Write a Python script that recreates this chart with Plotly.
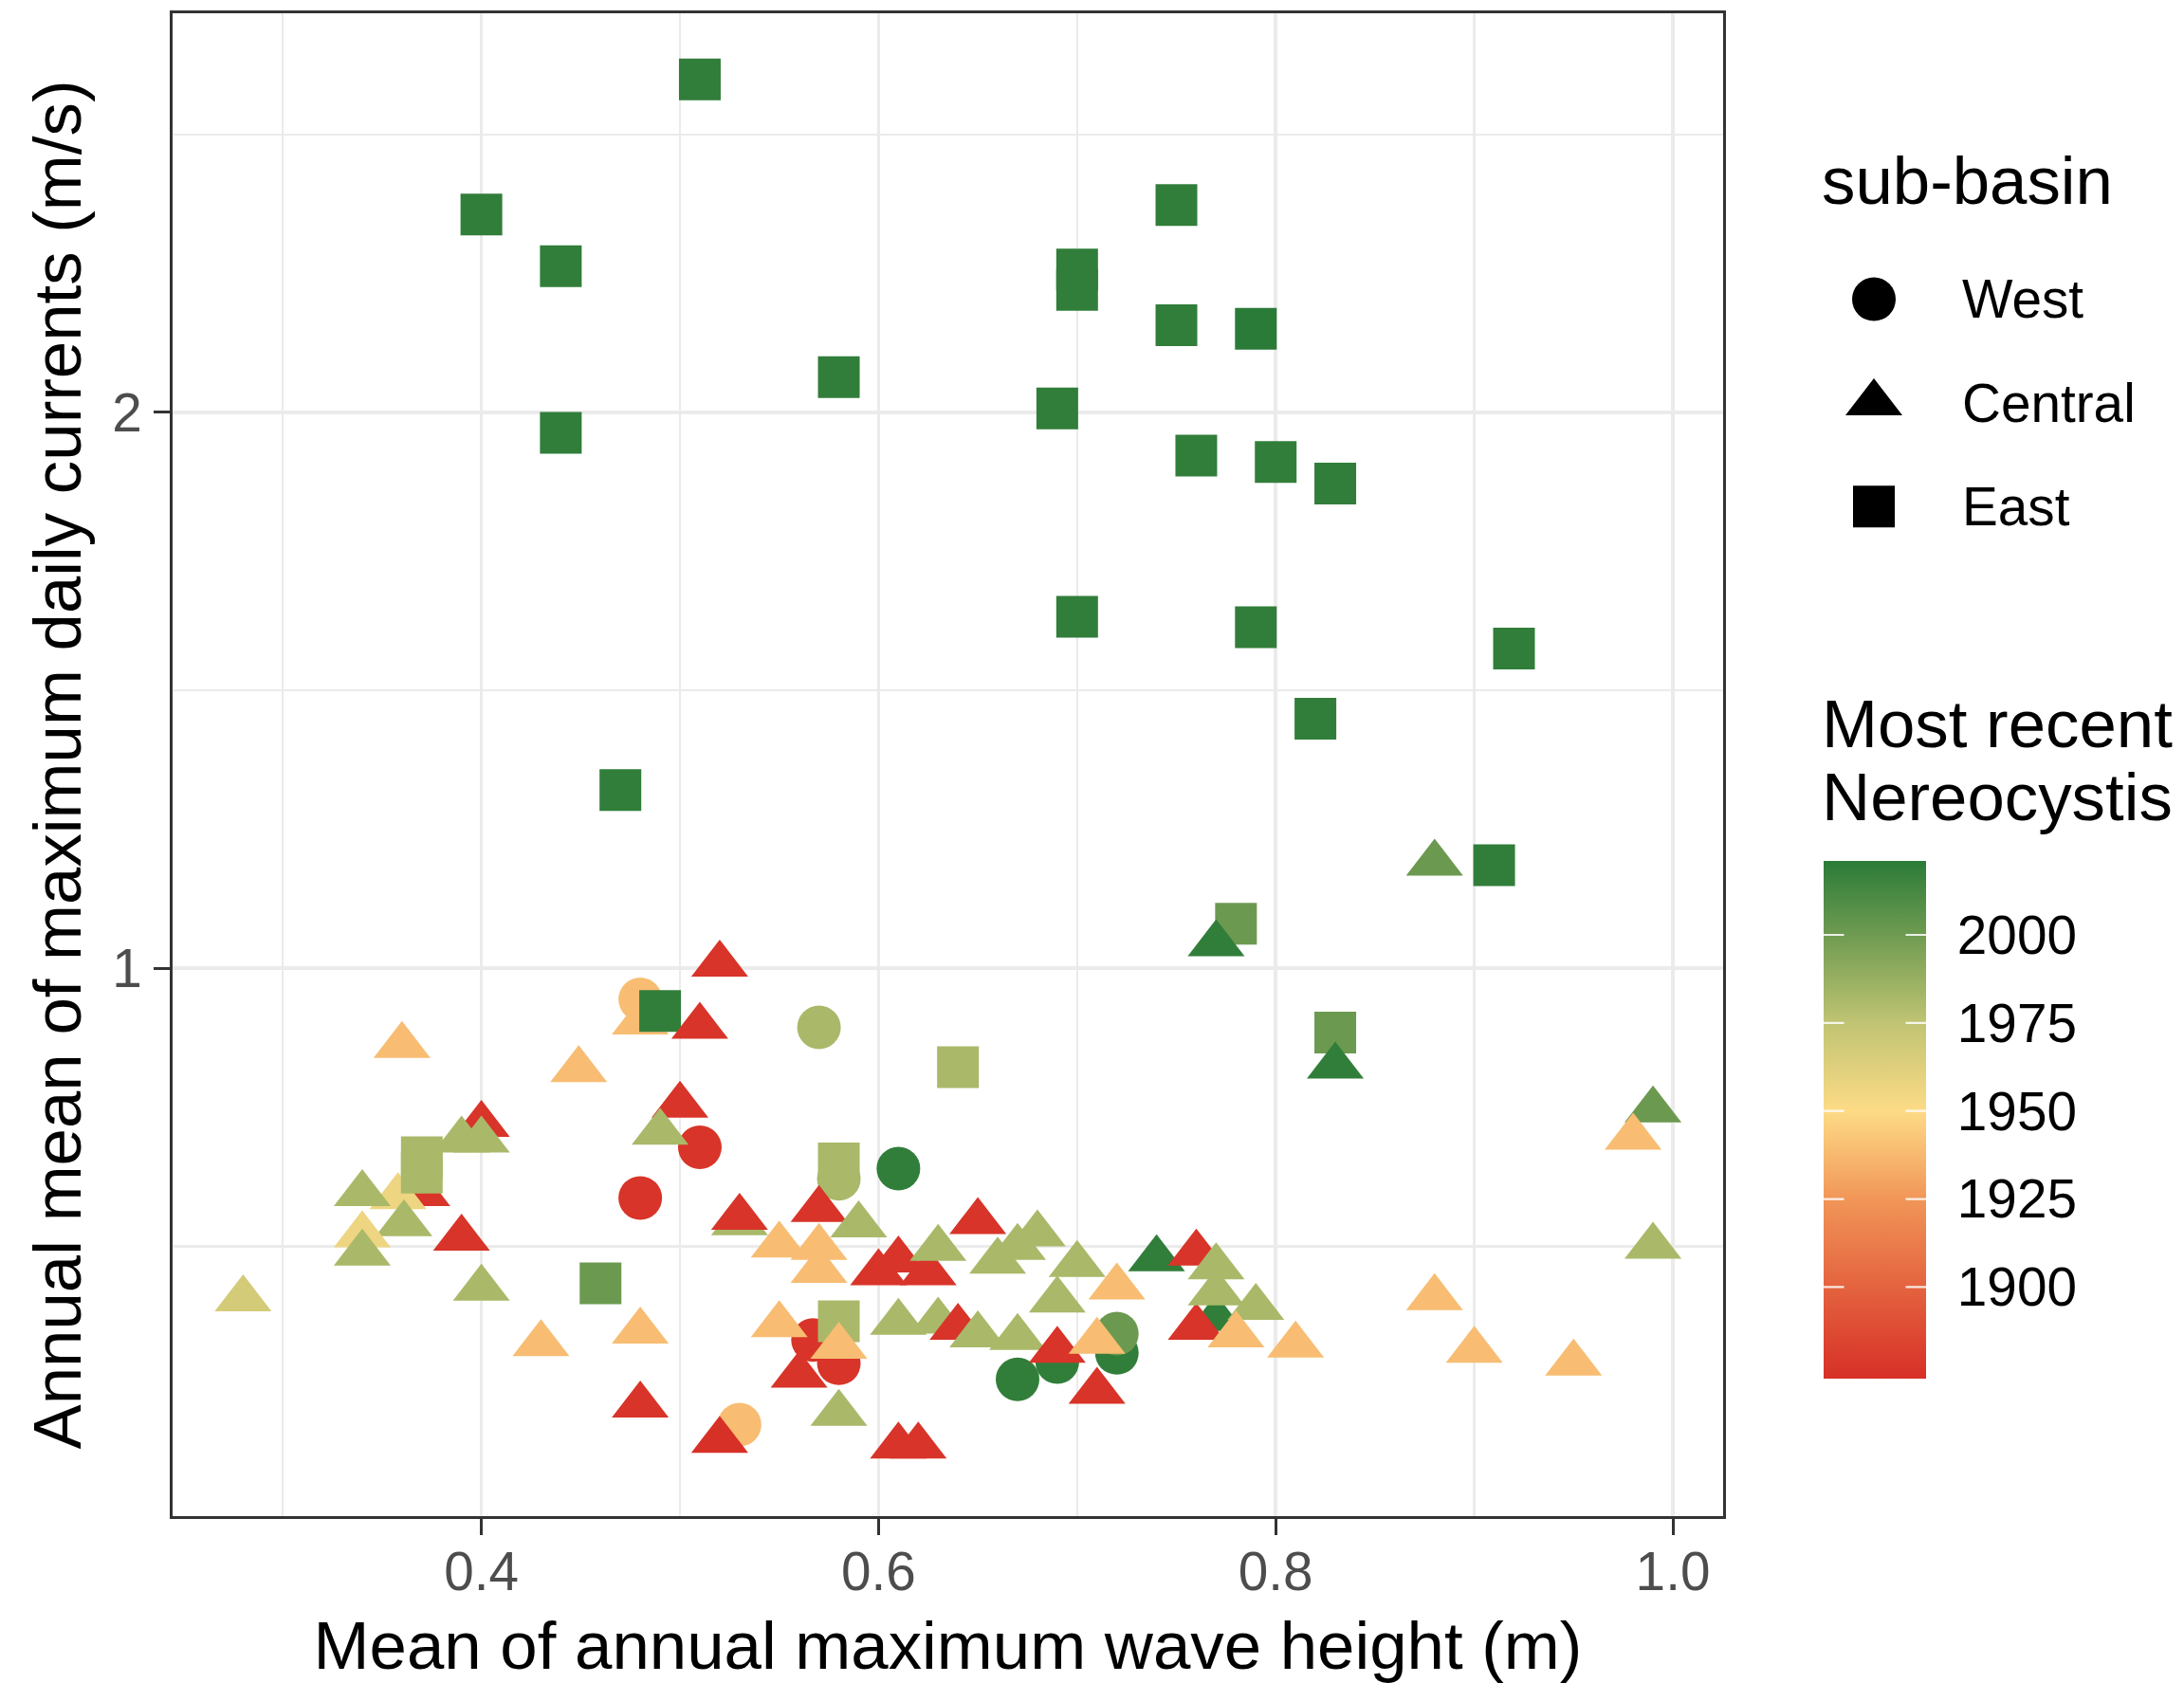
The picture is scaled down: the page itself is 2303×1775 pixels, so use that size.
import plotly.graph_objects as go

# ---------------- data ----------------
basin = (["Central"] * 4 + ["West"] * 13 + ["East"] * 29 + ["Central"] * 69)

wave = [
    # early-drawn Central
    0.37, 0.358, 0.48, 0.77,
    # West
    0.48, 0.57, 0.51, 0.48, 0.61, 0.58, 0.567, 0.58, 0.53, 0.67, 0.69, 0.72, 0.72,
    # East
    0.51, 0.40, 0.44, 0.75, 0.70, 0.70, 0.75, 0.79, 0.58, 0.69, 0.44, 0.76, 0.80, 0.83,
    0.70, 0.79, 0.92, 0.82, 0.47, 0.91, 0.78, 0.49, 0.83, 0.64, 0.37, 0.37, 0.58, 0.58, 0.46,
    # Central
    0.88, 0.77, 0.83, 0.52, 0.51, 0.36, 0.449, 0.50, 0.49, 0.40, 0.39, 0.40, 0.34, 0.361,
    0.34, 0.34, 0.39, 0.28, 0.40, 0.43, 0.48, 0.48, 0.52, 0.53, 0.53, 0.57, 0.59, 0.55,
    0.57, 0.57, 0.60, 0.625, 0.61, 0.63, 0.61, 0.63, 0.55, 0.56, 0.58, 0.58, 0.61, 0.62,
    0.65, 0.68, 0.67, 0.66, 0.70, 0.69, 0.74, 0.76, 0.77, 0.72, 0.64, 0.65, 0.67, 0.69,
    0.71, 0.71, 0.76, 0.77, 0.79, 0.78, 0.81, 0.99, 0.98, 0.99, 0.88, 0.90, 0.95,
]

current = [
    0.755, 0.752, 0.935, 0.646,
    0.962, 0.929, 0.80, 0.751, 0.779, 0.769, 0.629, 0.611, 0.566, 0.599, 0.612, 0.619, 0.634,
    3.03, 2.56, 2.40, 2.59, 2.39, 2.33, 2.23, 2.22, 2.09, 2.01, 1.95, 1.895, 1.88, 1.83,
    1.55, 1.53, 1.49, 1.365, 1.249, 1.137, 1.057, 0.948, 0.923, 0.884, 0.79, 0.775, 0.784, 0.644, 0.675,
    1.14, 1.031, 0.885, 1.005, 0.93, 0.908, 0.881, 0.843, 0.815, 0.823, 0.807, 0.807, 0.755, 0.727,
    0.717, 0.701, 0.714, 0.662, 0.671, 0.626, 0.636, 0.58, 0.555, 0.728, 0.733, 0.74, 0.726, 0.708,
    0.706, 0.686, 0.684, 0.684, 0.695, 0.705, 0.643, 0.644, 0.641, 0.602, 0.624, 0.574, 0.551, 0.551,
    0.729, 0.718, 0.706, 0.694, 0.691, 0.661, 0.696, 0.701, 0.689, 0.672, 0.639, 0.633, 0.631, 0.621,
    0.628, 0.59, 0.639, 0.667, 0.655, 0.633, 0.625, 0.838, 0.81, 0.707, 0.663, 0.621, 0.611,
]

year = [
    1876, 1956, 1939, 2019,
    1939, 1982, 1876, 1876, 2019, 1982, 1876, 1876, 1939, 2019, 2019, 2019, 2001,
    2019, 2019, 2019, 2019, 2019, 2019, 2019, 2021, 2019, 2019, 2019, 2019, 2019, 2019,
    2019, 2019, 2019, 2019, 2019, 2019, 2001, 2019, 2001, 1982, 1982, 1982, 1982, 1982, 2001,
    2001, 2019, 2019, 1876, 1876, 1939, 1939, 1876, 1982, 1876, 1982, 1982, 1982, 1982,
    1956, 1982, 1876, 1967, 1982, 1939, 1939, 1876, 1874, 1982, 1876, 1876, 1982, 1939,
    1939, 1939, 1876, 1876, 1876, 1982, 1982, 1982, 1939, 1876, 1939, 1982, 1876, 1876,
    1876, 1982, 1982, 1982, 1982, 1982, 2019, 1876, 1982, 1939, 1876, 1982, 1982, 1876,
    1939, 1876, 1876, 1982, 1982, 1939, 1939, 2001, 1939, 1982, 1939, 1939, 1939,
]

basin_levels = ["West", "Central", "East"]
year_ticks = [1900, 1925, 1950, 1975, 2000]
x_ticks = [0.4, 0.6, 0.8, 1.0]
x_ticklabels = ["0.4", "0.6", "0.8", "1.0"]
x_minor = [0.3, 0.5, 0.7, 0.9]
y_ticks = [1, 2]
y_ticklabels = ["1", "2"]
y_minor = [0.7071, 1.4142, 2.8284]

# ---------------- styling ----------------
FONT = "Liberation Sans, Arial, sans-serif"
TITLE_SIZE = 70.8
TEXT_SIZE = 56.7
symbol_map = {"West": "circle", "Central": "triangle-up", "East": "square"}
size_map = {"West": 46, "Central": 52, "East": 44}

cmin, cmax = min(year), max(year)


def t(y):
    return (y - cmin) / (cmax - cmin)


colorscale = [
    [0.0, "rgb(215,48,39)"],
    [t(1900), "rgb(228,99,63)"],
    [t(1925), "rgb(241,150,88)"],
    [t(1950), "rgb(253,219,134)"],
    [t(1975), "rgb(192,196,115)"],
    [t(2000), "rgb(111,155,81)"],
    [1.0, "rgb(43,123,56)"],
]

W, H = 2303, 1775
ML, MR, MT, MB = 182, 10, 14, 176
PW, PH = W - ML - MR, H - MT - MB


def px_x(px):
    return (px - ML) / PW


def px_y(py):
    return (H - MB - py) / PH


# colour bar geometry (pixels)
CB_LEFT, CB_THICK = 1923, 108
CB_TOP, CB_BOTTOM = 908, 1454
CB_LEN = CB_BOTTOM - CB_TOP

fig = go.Figure()

fig.add_trace(go.Scatter(
    x=wave, y=current, mode="markers",
    marker=dict(
        symbol=[symbol_map[b] for b in basin],
        size=[size_map[b] for b in basin],
        color=year, colorscale=colorscale, cmin=cmin, cmax=cmax,
        line=dict(width=0),
        opacity=1,
        colorbar=dict(
            x=px_x(CB_LEFT), xanchor="left", xpad=0,
            y=px_y((CB_TOP + CB_BOTTOM) / 2), yanchor="middle", ypad=0,
            len=CB_LEN, lenmode="pixels",
            thickness=CB_THICK, thicknessmode="pixels",
            outlinewidth=0,
            tickvals=year_ticks,
            ticktext=[str(v) for v in year_ticks],
            ticks="outside", ticklen=22, tickwidth=1, tickcolor="white",
            tickfont=dict(size=TEXT_SIZE, color="black", family=FONT),
        ),
    ),
    showlegend=False,
    hoverinfo="skip",
))

# custom shape legend (drawn on an auxiliary, hidden axis)
leg_idx = list(range(len(basin_levels)))
fig.add_trace(go.Scatter(
    x=[55] * len(basin_levels), y=leg_idx, mode="markers",
    marker=dict(symbol=[symbol_map[b] for b in basin_levels],
                size=[size_map[b] for b in basin_levels],
                color="#000000", opacity=1, line=dict(width=0)),
    xaxis="x2", yaxis="y2", showlegend=False, hoverinfo="skip",
))

annotations = []
for i, b in enumerate(basin_levels):
    annotations.append(dict(
        x=146, y=i, xref="x2", yref="y2", text=b, showarrow=False,
        xanchor="left", yanchor="middle",
        font=dict(size=TEXT_SIZE, color="black", family=FONT),
    ))
annotations.append(dict(
    x=px_x(1919), y=px_y(190), xref="paper", yref="paper", text="sub-basin",
    showarrow=False, xanchor="left", yanchor="middle",
    font=dict(size=TITLE_SIZE, color="black", family=FONT),
))
annotations.append(dict(
    x=px_x(1919), y=px_y(764), xref="paper", yref="paper", text="Most recent",
    showarrow=False, xanchor="left", yanchor="middle",
    font=dict(size=TITLE_SIZE, color="black", family=FONT),
))
annotations.append(dict(
    x=px_x(1919), y=px_y(841), xref="paper", yref="paper", text="Nereocystis",
    showarrow=False, xanchor="left", yanchor="middle",
    font=dict(size=TITLE_SIZE, color="black", family=FONT),
))

# white tick marks inside both edges of the colour bar
for v in year_ticks:
    ty = px_y(CB_BOTTOM - t(v) * CB_LEN)
    for edge, dx in ((CB_LEFT, 23), (CB_LEFT + CB_THICK, -23)):
        annotations.append(dict(
            x=px_x(edge), y=ty, xref="paper", yref="paper", text="",
            showarrow=True, ax=dx, ay=0, arrowhead=0, arrowwidth=2.2,
            arrowcolor="rgba(255,255,255,0.85)", standoff=0, startstandoff=0,
        ))

axis_common = dict(
    showline=True, linecolor="#333333", linewidth=3, mirror=True,
    showgrid=True, gridcolor="#ebebeb", gridwidth=3.5,
    zeroline=False, automargin=False,
    ticks="outside", ticklen=17, tickwidth=3, tickcolor="#333333",
    tickfont=dict(size=TEXT_SIZE, color="#4d4d4d", family=FONT),
)

fig.update_layout(
    width=W, height=H,
    margin=dict(l=ML, r=MR, t=MT, b=MB, autoexpand=False),
    paper_bgcolor="white", plot_bgcolor="white",
    font=dict(family=FONT, color="black"),
    xaxis=dict(
        domain=[0, px_x(1817)],
        range=[0.2445, 1.0253],
        tickvals=x_ticks, ticktext=x_ticklabels,
        minor=dict(tickvals=x_minor, showgrid=True, gridcolor="#ebebeb", gridwidth=2.5, ticks=""),
        title=dict(text="Mean of annual maximum wave height (m)",
                   font=dict(size=TITLE_SIZE, color="black", family=FONT), standoff=36),
        ticklabelstandoff=-10,
        **axis_common,
    ),
    yaxis=dict(
        type="log",
        range=[-0.2967, 0.5172],
        tickvals=y_ticks, ticktext=y_ticklabels,
        minor=dict(tickvals=y_minor, showgrid=True, gridcolor="#ebebeb", gridwidth=2.5, ticks=""),
        title=dict(text="Annual mean of maximum daily currents (m/s)",
                   font=dict(size=TITLE_SIZE, color="black", family=FONT), standoff=10),
        ticklabelstandoff=1,
        **axis_common,
    ),
    xaxis2=dict(domain=[px_x(1921), 1.0], range=[0, 372], anchor="y2", visible=False,
                fixedrange=True),
    yaxis2=dict(domain=[px_y(600), px_y(250)], range=[2.6, -0.6], anchor="x2", visible=False,
                fixedrange=True),
    annotations=annotations,
)

fig.write_html(
    "out.html",
    config={"displayModeBar": False, "staticPlot": True},
    post_script="document.body.style.margin='0';document.body.style.overflow='hidden';",
)
